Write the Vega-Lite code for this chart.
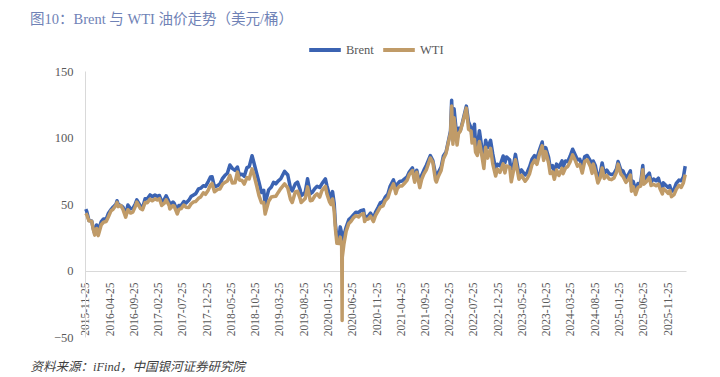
{
  "$schema": "https://vega.github.io/schema/vega-lite/v6.json",
  "width": 601,
  "height": 266,
  "autosize": {"type": "none"},
  "padding": {"left": 85, "top": 71, "right": 34, "bottom": 40},
  "background": "white",
  "title": {
    "text": "图10：Brent 与 WTI 油价走势（美元/桶）",
    "anchor": "start",
    "frame": "group",
    "orient": "top",
    "dx": -55,
    "offset": 5,
    "font": "Liberation Serif, Noto Sans CJK SC",
    "fontSize": 14.5,
    "fontWeight": "normal",
    "color": "#6F82B6"
  },
  "config": {
    "view": {"stroke": null},
    "axis": {"grid": false, "ticks": false, "tickSize": 0, "domainColor": "#D9D9D9", "domainWidth": 1, "labelFont": "Liberation Serif", "labelColor": "#595959"},
    "legend": {"labelFont": "Liberation Serif", "labelFontSize": 12.5, "labelColor": "#595959"}
  },
  "data": {"values": [
    {"d":"2015-11-25","Brent":46.2,"WTI":43.0},
    {"d":"2015-12-01","Brent":44.4,"WTI":41.9},
    {"d":"2015-12-15","Brent":37.5,"WTI":37.3},
    {"d":"2016-01-01","Brent":37.3,"WTI":37.0},
    {"d":"2016-01-12","Brent":30.9,"WTI":30.4},
    {"d":"2016-01-20","Brent":27.9,"WTI":26.6},
    {"d":"2016-02-01","Brent":34.2,"WTI":31.6},
    {"d":"2016-02-11","Brent":30.1,"WTI":26.2},
    {"d":"2016-03-01","Brent":36.8,"WTI":34.4},
    {"d":"2016-03-15","Brent":38.7,"WTI":36.3},
    {"d":"2016-04-01","Brent":38.7,"WTI":36.8},
    {"d":"2016-04-15","Brent":43.1,"WTI":40.4},
    {"d":"2016-05-01","Brent":45.8,"WTI":44.8},
    {"d":"2016-05-15","Brent":47.8,"WTI":46.2},
    {"d":"2016-06-01","Brent":49.7,"WTI":49.0},
    {"d":"2016-06-08","Brent":52.5,"WTI":51.2},
    {"d":"2016-06-15","Brent":49.8,"WTI":48.0},
    {"d":"2016-07-01","Brent":48.9,"WTI":48.9},
    {"d":"2016-07-15","Brent":47.6,"WTI":45.9},
    {"d":"2016-08-01","Brent":42.1,"WTI":40.1},
    {"d":"2016-08-15","Brent":49.2,"WTI":45.7},
    {"d":"2016-09-01","Brent":46.4,"WTI":43.2},
    {"d":"2016-09-15","Brent":46.6,"WTI":43.9},
    {"d":"2016-10-01","Brent":50.2,"WTI":48.2},
    {"d":"2016-10-10","Brent":53.1,"WTI":51.4},
    {"d":"2016-11-01","Brent":48.6,"WTI":46.7},
    {"d":"2016-11-15","Brent":46.9,"WTI":45.8},
    {"d":"2016-12-01","Brent":53.9,"WTI":51.1},
    {"d":"2016-12-15","Brent":54.0,"WTI":51.0},
    {"d":"2017-01-01","Brent":56.8,"WTI":53.7},
    {"d":"2017-01-15","Brent":55.5,"WTI":52.4},
    {"d":"2017-02-01","Brent":56.8,"WTI":53.9},
    {"d":"2017-02-15","Brent":55.8,"WTI":53.1},
    {"d":"2017-03-01","Brent":56.4,"WTI":54.0},
    {"d":"2017-03-15","Brent":51.8,"WTI":48.9},
    {"d":"2017-04-01","Brent":53.5,"WTI":50.6},
    {"d":"2017-04-12","Brent":56.2,"WTI":53.1},
    {"d":"2017-05-01","Brent":51.5,"WTI":48.8},
    {"d":"2017-05-05","Brent":49.1,"WTI":46.2},
    {"d":"2017-05-25","Brent":51.5,"WTI":48.9},
    {"d":"2017-06-01","Brent":50.6,"WTI":48.4},
    {"d":"2017-06-21","Brent":44.8,"WTI":42.5},
    {"d":"2017-07-01","Brent":48.8,"WTI":46.0},
    {"d":"2017-07-15","Brent":48.9,"WTI":46.5},
    {"d":"2017-08-01","Brent":51.8,"WTI":49.2},
    {"d":"2017-08-15","Brent":50.8,"WTI":47.6},
    {"d":"2017-09-01","Brent":52.8,"WTI":47.3},
    {"d":"2017-09-15","Brent":55.6,"WTI":50.0},
    {"d":"2017-10-01","Brent":56.8,"WTI":51.6},
    {"d":"2017-10-15","Brent":57.8,"WTI":51.9},
    {"d":"2017-11-01","Brent":61.4,"WTI":54.3},
    {"d":"2017-11-15","Brent":61.9,"WTI":55.3},
    {"d":"2017-12-01","Brent":63.7,"WTI":58.4},
    {"d":"2017-12-15","Brent":63.2,"WTI":57.3},
    {"d":"2018-01-01","Brent":66.9,"WTI":60.4},
    {"d":"2018-01-15","Brent":70.3,"WTI":64.3},
    {"d":"2018-01-25","Brent":70.5,"WTI":65.5},
    {"d":"2018-02-09","Brent":62.8,"WTI":59.2},
    {"d":"2018-03-01","Brent":63.8,"WTI":61.0},
    {"d":"2018-03-15","Brent":65.1,"WTI":61.2},
    {"d":"2018-04-01","Brent":69.3,"WTI":64.9},
    {"d":"2018-04-15","Brent":71.4,"WTI":66.2},
    {"d":"2018-05-01","Brent":73.1,"WTI":67.3},
    {"d":"2018-05-17","Brent":79.3,"WTI":71.5},
    {"d":"2018-06-01","Brent":76.8,"WTI":65.8},
    {"d":"2018-06-18","Brent":75.3,"WTI":65.9},
    {"d":"2018-07-03","Brent":77.8,"WTI":74.1},
    {"d":"2018-07-15","Brent":71.8,"WTI":68.1},
    {"d":"2018-08-01","Brent":72.4,"WTI":67.7},
    {"d":"2018-08-15","Brent":70.8,"WTI":65.0},
    {"d":"2018-09-01","Brent":77.4,"WTI":69.8},
    {"d":"2018-09-15","Brent":78.1,"WTI":68.9},
    {"d":"2018-10-03","Brent":86.3,"WTI":76.4},
    {"d":"2018-10-15","Brent":80.8,"WTI":71.8},
    {"d":"2018-11-01","Brent":72.9,"WTI":63.7},
    {"d":"2018-11-15","Brent":66.6,"WTI":56.5},
    {"d":"2018-12-01","Brent":58.7,"WTI":50.9},
    {"d":"2018-12-15","Brent":60.3,"WTI":51.2},
    {"d":"2018-12-24","Brent":50.5,"WTI":42.5},
    {"d":"2019-01-15","Brent":60.6,"WTI":52.1},
    {"d":"2019-02-01","Brent":62.8,"WTI":55.3},
    {"d":"2019-02-15","Brent":66.3,"WTI":55.6},
    {"d":"2019-03-01","Brent":65.1,"WTI":55.8},
    {"d":"2019-03-15","Brent":67.2,"WTI":58.5},
    {"d":"2019-04-01","Brent":69.0,"WTI":61.6},
    {"d":"2019-04-25","Brent":74.6,"WTI":65.2},
    {"d":"2019-05-15","Brent":71.8,"WTI":62.0},
    {"d":"2019-06-01","Brent":61.9,"WTI":53.5},
    {"d":"2019-06-12","Brent":59.9,"WTI":51.1},
    {"d":"2019-07-01","Brent":65.1,"WTI":59.1},
    {"d":"2019-07-15","Brent":66.5,"WTI":59.6},
    {"d":"2019-08-01","Brent":60.5,"WTI":53.9},
    {"d":"2019-08-07","Brent":56.2,"WTI":51.1},
    {"d":"2019-09-01","Brent":58.7,"WTI":54.1},
    {"d":"2019-09-16","Brent":69.0,"WTI":62.9},
    {"d":"2019-10-03","Brent":57.7,"WTI":52.5},
    {"d":"2019-10-15","Brent":58.7,"WTI":52.8},
    {"d":"2019-11-01","Brent":61.7,"WTI":56.2},
    {"d":"2019-11-15","Brent":63.3,"WTI":57.7},
    {"d":"2019-12-01","Brent":62.4,"WTI":55.2},
    {"d":"2019-12-15","Brent":65.2,"WTI":60.1},
    {"d":"2020-01-06","Brent":68.9,"WTI":63.3},
    {"d":"2020-01-15","Brent":64.0,"WTI":57.8},
    {"d":"2020-02-01","Brent":56.6,"WTI":51.6},
    {"d":"2020-02-10","Brent":53.3,"WTI":49.6},
    {"d":"2020-02-20","Brent":59.3,"WTI":53.8},
    {"d":"2020-03-01","Brent":50.5,"WTI":44.8},
    {"d":"2020-03-09","Brent":34.4,"WTI":31.1},
    {"d":"2020-03-18","Brent":24.9,"WTI":20.4},
    {"d":"2020-04-01","Brent":24.7,"WTI":20.3},
    {"d":"2020-04-08","Brent":32.8,"WTI":25.1},
    {"d":"2020-04-17","Brent":28.1,"WTI":18.3},
    {"d":"2020-04-20","Brent":25.6,"WTI":-37.6},
    {"d":"2020-04-21","Brent":19.3,"WTI":10.0},
    {"d":"2020-05-01","Brent":26.4,"WTI":19.8},
    {"d":"2020-05-15","Brent":32.5,"WTI":29.4},
    {"d":"2020-06-01","Brent":38.3,"WTI":35.4},
    {"d":"2020-06-15","Brent":39.7,"WTI":37.1},
    {"d":"2020-07-01","Brent":42.0,"WTI":39.8},
    {"d":"2020-07-15","Brent":43.8,"WTI":41.2},
    {"d":"2020-08-01","Brent":43.5,"WTI":40.3},
    {"d":"2020-08-15","Brent":45.0,"WTI":42.0},
    {"d":"2020-09-01","Brent":45.6,"WTI":42.8},
    {"d":"2020-09-08","Brent":39.8,"WTI":36.8},
    {"d":"2020-09-15","Brent":40.5,"WTI":38.3},
    {"d":"2020-10-01","Brent":40.9,"WTI":38.7},
    {"d":"2020-10-15","Brent":43.2,"WTI":40.9},
    {"d":"2020-11-02","Brent":39.0,"WTI":36.8},
    {"d":"2020-11-15","Brent":43.8,"WTI":41.3},
    {"d":"2020-12-01","Brent":47.4,"WTI":44.6},
    {"d":"2020-12-15","Brent":50.8,"WTI":47.6},
    {"d":"2021-01-01","Brent":51.8,"WTI":48.5},
    {"d":"2021-01-15","Brent":55.1,"WTI":52.4},
    {"d":"2021-02-01","Brent":57.5,"WTI":54.6},
    {"d":"2021-02-15","Brent":63.3,"WTI":60.0},
    {"d":"2021-03-08","Brent":68.2,"WTI":65.1},
    {"d":"2021-03-23","Brent":60.8,"WTI":57.8},
    {"d":"2021-04-01","Brent":64.9,"WTI":61.5},
    {"d":"2021-04-15","Brent":66.9,"WTI":63.5},
    {"d":"2021-05-01","Brent":67.3,"WTI":63.6},
    {"d":"2021-05-15","Brent":68.7,"WTI":65.4},
    {"d":"2021-06-01","Brent":70.3,"WTI":67.7},
    {"d":"2021-06-15","Brent":74.0,"WTI":72.1},
    {"d":"2021-07-05","Brent":77.2,"WTI":75.2},
    {"d":"2021-07-19","Brent":68.6,"WTI":66.4},
    {"d":"2021-08-01","Brent":75.4,"WTI":73.9},
    {"d":"2021-08-20","Brent":65.2,"WTI":62.3},
    {"d":"2021-09-01","Brent":71.6,"WTI":68.6},
    {"d":"2021-09-15","Brent":75.5,"WTI":72.6},
    {"d":"2021-10-01","Brent":79.3,"WTI":75.9},
    {"d":"2021-10-25","Brent":86.4,"WTI":84.6},
    {"d":"2021-11-10","Brent":82.6,"WTI":81.3},
    {"d":"2021-11-26","Brent":72.7,"WTI":68.2},
    {"d":"2021-12-02","Brent":69.7,"WTI":66.5},
    {"d":"2021-12-15","Brent":73.9,"WTI":70.9},
    {"d":"2022-01-01","Brent":77.8,"WTI":75.2},
    {"d":"2022-01-15","Brent":86.1,"WTI":83.8},
    {"d":"2022-02-01","Brent":89.2,"WTI":88.2},
    {"d":"2022-02-14","Brent":96.5,"WTI":95.5},
    {"d":"2022-03-01","Brent":105.0,"WTI":103.4},
    {"d":"2022-03-08","Brent":128.0,"WTI":123.7},
    {"d":"2022-03-16","Brent":98.0,"WTI":95.0},
    {"d":"2022-03-23","Brent":121.6,"WTI":114.9},
    {"d":"2022-04-11","Brent":98.5,"WTI":94.3},
    {"d":"2022-04-20","Brent":107.0,"WTI":102.8},
    {"d":"2022-05-01","Brent":105.0,"WTI":104.7},
    {"d":"2022-05-15","Brent":111.6,"WTI":110.5},
    {"d":"2022-06-08","Brent":123.6,"WTI":122.1},
    {"d":"2022-06-22","Brent":111.7,"WTI":106.2},
    {"d":"2022-07-08","Brent":107.0,"WTI":104.8},
    {"d":"2022-07-14","Brent":99.1,"WTI":95.8},
    {"d":"2022-07-29","Brent":110.0,"WTI":98.6},
    {"d":"2022-08-05","Brent":94.9,"WTI":89.0},
    {"d":"2022-08-16","Brent":92.3,"WTI":86.5},
    {"d":"2022-08-29","Brent":105.1,"WTI":97.0},
    {"d":"2022-09-15","Brent":90.8,"WTI":85.1},
    {"d":"2022-09-26","Brent":84.1,"WTI":76.7},
    {"d":"2022-10-07","Brent":97.9,"WTI":92.6},
    {"d":"2022-10-20","Brent":92.4,"WTI":84.5},
    {"d":"2022-11-07","Brent":97.9,"WTI":91.8},
    {"d":"2022-11-21","Brent":87.5,"WTI":80.0},
    {"d":"2022-12-09","Brent":76.1,"WTI":71.0},
    {"d":"2022-12-20","Brent":79.9,"WTI":76.2},
    {"d":"2023-01-05","Brent":78.7,"WTI":73.7},
    {"d":"2023-01-25","Brent":86.1,"WTI":80.2},
    {"d":"2023-02-05","Brent":80.9,"WTI":73.4},
    {"d":"2023-02-15","Brent":85.4,"WTI":78.6},
    {"d":"2023-03-07","Brent":83.3,"WTI":77.6},
    {"d":"2023-03-17","Brent":72.9,"WTI":66.7},
    {"d":"2023-04-01","Brent":79.9,"WTI":75.7},
    {"d":"2023-04-12","Brent":87.3,"WTI":83.3},
    {"d":"2023-05-04","Brent":72.5,"WTI":68.6},
    {"d":"2023-05-20","Brent":75.6,"WTI":71.6},
    {"d":"2023-06-12","Brent":71.8,"WTI":67.1},
    {"d":"2023-06-25","Brent":73.9,"WTI":69.2},
    {"d":"2023-07-10","Brent":78.0,"WTI":72.8},
    {"d":"2023-07-25","Brent":83.6,"WTI":79.6},
    {"d":"2023-08-10","Brent":86.4,"WTI":82.8},
    {"d":"2023-08-25","Brent":84.5,"WTI":79.8},
    {"d":"2023-09-10","Brent":90.7,"WTI":87.5},
    {"d":"2023-09-27","Brent":96.6,"WTI":93.7},
    {"d":"2023-10-06","Brent":84.6,"WTI":82.8},
    {"d":"2023-10-19","Brent":92.4,"WTI":89.4},
    {"d":"2023-11-06","Brent":85.2,"WTI":80.8},
    {"d":"2023-11-16","Brent":77.4,"WTI":72.9},
    {"d":"2023-12-01","Brent":78.9,"WTI":74.1},
    {"d":"2023-12-12","Brent":73.2,"WTI":68.6},
    {"d":"2023-12-26","Brent":80.0,"WTI":75.6},
    {"d":"2024-01-10","Brent":77.8,"WTI":71.4},
    {"d":"2024-01-29","Brent":82.4,"WTI":76.8},
    {"d":"2024-02-05","Brent":77.9,"WTI":72.8},
    {"d":"2024-02-20","Brent":82.3,"WTI":77.0},
    {"d":"2024-03-05","Brent":82.0,"WTI":78.2},
    {"d":"2024-03-20","Brent":85.9,"WTI":81.7},
    {"d":"2024-04-05","Brent":91.2,"WTI":86.9},
    {"d":"2024-04-20","Brent":87.3,"WTI":83.1},
    {"d":"2024-05-05","Brent":83.3,"WTI":78.5},
    {"d":"2024-05-20","Brent":83.7,"WTI":79.8},
    {"d":"2024-06-04","Brent":77.5,"WTI":73.3},
    {"d":"2024-06-20","Brent":85.7,"WTI":82.2},
    {"d":"2024-07-05","Brent":86.5,"WTI":83.2},
    {"d":"2024-07-25","Brent":82.4,"WTI":78.3},
    {"d":"2024-08-05","Brent":76.3,"WTI":73.0},
    {"d":"2024-08-12","Brent":82.3,"WTI":80.1},
    {"d":"2024-08-25","Brent":79.0,"WTI":74.8},
    {"d":"2024-09-10","Brent":69.2,"WTI":65.8},
    {"d":"2024-09-25","Brent":73.5,"WTI":69.7},
    {"d":"2024-10-07","Brent":80.9,"WTI":77.1},
    {"d":"2024-10-20","Brent":73.1,"WTI":69.2},
    {"d":"2024-11-05","Brent":75.5,"WTI":71.5},
    {"d":"2024-11-20","Brent":72.8,"WTI":68.8},
    {"d":"2024-12-05","Brent":72.1,"WTI":68.3},
    {"d":"2024-12-20","Brent":72.9,"WTI":69.5},
    {"d":"2025-01-05","Brent":76.5,"WTI":73.9},
    {"d":"2025-01-15","Brent":82.0,"WTI":80.0},
    {"d":"2025-02-01","Brent":75.7,"WTI":72.5},
    {"d":"2025-02-15","Brent":75.0,"WTI":70.7},
    {"d":"2025-03-05","Brent":69.3,"WTI":66.3},
    {"d":"2025-03-20","Brent":72.0,"WTI":68.3},
    {"d":"2025-04-02","Brent":74.9,"WTI":71.7},
    {"d":"2025-04-09","Brent":62.8,"WTI":59.6},
    {"d":"2025-04-20","Brent":67.0,"WTI":63.1},
    {"d":"2025-05-05","Brent":60.2,"WTI":57.1},
    {"d":"2025-05-20","Brent":65.4,"WTI":62.6},
    {"d":"2025-06-05","Brent":65.3,"WTI":63.4},
    {"d":"2025-06-19","Brent":78.9,"WTI":75.7},
    {"d":"2025-06-25","Brent":67.7,"WTI":64.9},
    {"d":"2025-07-10","Brent":70.2,"WTI":66.6},
    {"d":"2025-07-30","Brent":73.2,"WTI":70.0},
    {"d":"2025-08-10","Brent":66.6,"WTI":63.9},
    {"d":"2025-08-25","Brent":68.8,"WTI":64.8},
    {"d":"2025-09-10","Brent":67.5,"WTI":63.7},
    {"d":"2025-09-25","Brent":69.4,"WTI":65.0},
    {"d":"2025-10-05","Brent":65.0,"WTI":61.5},
    {"d":"2025-10-20","Brent":61.0,"WTI":57.5},
    {"d":"2025-10-25","Brent":65.9,"WTI":61.5},
    {"d":"2025-11-10","Brent":64.1,"WTI":60.1},
    {"d":"2025-11-25","Brent":62.5,"WTI":58.0},
    {"d":"2025-12-05","Brent":63.8,"WTI":60.1},
    {"d":"2025-12-16","Brent":59.5,"WTI":55.5},
    {"d":"2026-01-01","Brent":61.0,"WTI":57.0},
    {"d":"2026-01-15","Brent":65.5,"WTI":61.0},
    {"d":"2026-02-01","Brent":68.0,"WTI":64.0},
    {"d":"2026-02-15","Brent":67.5,"WTI":62.5},
    {"d":"2026-03-01","Brent":70.5,"WTI":66.0},
    {"d":"2026-03-12","Brent":78.5,"WTI":72.0}
  ]},
  "transform": [{"fold": ["Brent", "WTI"], "as": ["series", "price"]}],
  "mark": {"type": "line", "strokeWidth": 3.5, "strokeJoin": "round", "clip": false},
  "encoding": {
    "x": {
      "field": "d", "type": "temporal",
      "scale": {"type": "utc", "domain": [{"year": 2015, "month": 11, "date": 20, "utc": true}, {"year": 2026, "month": 3, "date": 17, "utc": true}]},
      "axis": {
        "title": "资料来源：iFind，中国银河证券研究院",
        "titleFont": "Liberation Serif, Noto Sans CJK SC",
        "titleFontStyle": "italic",
        "titleFontWeight": "normal",
        "titleFontSize": 12.5,
        "titleColor": "#404040",
        "titleAnchor": "start",
        "titleAlign": "left",
        "titleBaseline": "alphabetic",
        "titleX": -55,
        "titleY": 99,
        "offset": -66,
        "labelAngle": 270,
        "labelFontSize": 11.5,
        "labelPadding": 11,
        "labelColor": "#595959",
        "labelOverlap": false,
        "labelFlush": false,
        "labelBound": false,
        "format": "%Y-%m-%d",
        "values": [
          {"year":2015,"month":11,"date":25,"utc":true},
          {"year":2016,"month":4,"date":25,"utc":true},
          {"year":2016,"month":9,"date":25,"utc":true},
          {"year":2017,"month":2,"date":25,"utc":true},
          {"year":2017,"month":7,"date":25,"utc":true},
          {"year":2017,"month":12,"date":25,"utc":true},
          {"year":2018,"month":5,"date":25,"utc":true},
          {"year":2018,"month":10,"date":25,"utc":true},
          {"year":2019,"month":3,"date":25,"utc":true},
          {"year":2019,"month":8,"date":25,"utc":true},
          {"year":2020,"month":1,"date":25,"utc":true},
          {"year":2020,"month":6,"date":25,"utc":true},
          {"year":2020,"month":11,"date":25,"utc":true},
          {"year":2021,"month":4,"date":25,"utc":true},
          {"year":2021,"month":9,"date":25,"utc":true},
          {"year":2022,"month":2,"date":25,"utc":true},
          {"year":2022,"month":7,"date":25,"utc":true},
          {"year":2022,"month":12,"date":25,"utc":true},
          {"year":2023,"month":5,"date":25,"utc":true},
          {"year":2023,"month":10,"date":25,"utc":true},
          {"year":2024,"month":3,"date":25,"utc":true},
          {"year":2024,"month":8,"date":25,"utc":true},
          {"year":2025,"month":1,"date":25,"utc":true},
          {"year":2025,"month":6,"date":25,"utc":true},
          {"year":2025,"month":11,"date":25,"utc":true}
        ]
      }
    },
    "y": {
      "field": "price", "type": "quantitative",
      "scale": {"domain": [-50, 150], "nice": false, "zero": false},
      "axis": {"title": null, "values": [-50, 0, 50, 100, 150], "labelFontSize": 12.5, "labelPadding": 12, "labelColor": "#595959"}
    },
    "color": {
      "field": "series", "type": "nominal",
      "scale": {"domain": ["Brent", "WTI"], "range": ["#3B63B2", "#C09B68"]},
      "legend": {
        "title": null,
        "orient": "none",
        "legendX": 222,
        "legendY": -39,
        "direction": "horizontal",
        "symbolType": "stroke",
        "symbolSize": 1000,
        "symbolStrokeWidth": 4,
        "columnPadding": 1,
        "labelOffset": 3
      }
    }
  }
}
